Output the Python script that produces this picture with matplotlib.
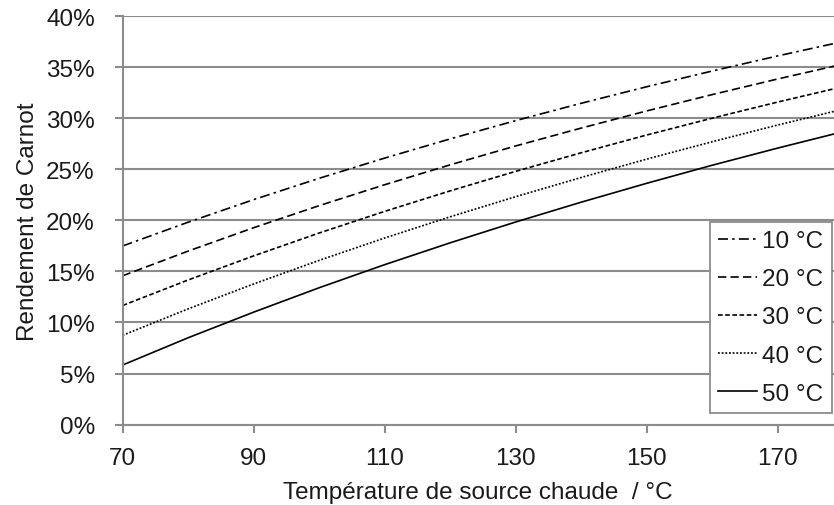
import matplotlib
matplotlib.use("Agg")
import matplotlib.pyplot as plt
from matplotlib.ticker import FuncFormatter

plt.rcParams['font.family'] = ['Liberation Sans', 'DejaVu Sans']

# Hot source temperature (°C)
t_hot = [70, 80, 90, 100, 110, 120, 130, 140, 150, 160, 170, 180]

# Carnot efficiency (%), per cold source temperature
eff_10 = [17.49, 19.82, 22.03, 24.12, 26.10, 27.98, 29.77, 31.47, 33.09, 34.63, 36.11, 37.52]
eff_20 = [14.57, 16.99, 19.28, 21.44, 23.49, 25.44, 27.29, 29.04, 30.72, 32.32, 33.85, 35.31]
eff_30 = [11.66, 14.16, 16.52, 18.76, 20.88, 22.89, 24.80, 26.62, 28.36, 30.01, 31.59, 33.10]
eff_40 = [8.74, 11.33, 13.77, 16.08, 18.27, 20.35, 22.32, 24.20, 26.00, 27.70, 29.34, 30.89]
eff_50 = [5.83, 8.50, 11.01, 13.40, 15.66, 17.80, 19.84, 21.78, 23.63, 25.40, 27.08, 28.69]

labels = ["10 °C", "20 °C", "30 °C", "40 °C", "50 °C"]
series = [eff_10, eff_20, eff_30, eff_40, eff_50]
styles = [(0, (6, 2.5, 1.5, 2.5)), (0, (5, 2.5)), (0, (2.8, 1.5)), (0, (1.1, 1.1)), '-']

yticks = [0, 5, 10, 15, 20, 25, 30, 35, 40]
xticks = [70, 90, 110, 130, 150, 170]

FS = 17.5
TXT = '#1a1a1a'
GRID = '#8c8c8c'

fig = plt.figure(figsize=(8.34, 5.06), dpi=100)
ax = fig.add_axes([0.147, 0.159, 0.853, 0.807])

for y, lab, ls in zip(series, labels, styles):
    ax.plot(t_hot, y, color='black', lw=1.2, linestyle=ls, label=lab)

ax.set_xlim(70, 178.6)
ax.set_ylim(0, 40)
ax.set_yticks(yticks)
ax.set_xticks(xticks)
ax.yaxis.set_major_formatter(FuncFormatter(lambda v, p: f"{int(v)}%"))
ax.grid(axis='y', color=GRID, lw=1.5)
ax.set_axisbelow(True)
for s in ['top', 'right']:
    ax.spines[s].set_visible(False)
for s in ['left', 'bottom']:
    ax.spines[s].set_color(GRID)
    ax.spines[s].set_linewidth(1.5)
ax.tick_params(axis='both', colors=GRID, width=1.5, length=6, labelsize=FS, labelcolor=TXT)
ax.tick_params(axis='y', pad=14)
ax.tick_params(axis='x', pad=10)

ax.set_ylabel("Rendement de Carnot", fontsize=FS, color=TXT, labelpad=5)
ax.set_xlabel("Température de source chaude  / °C", fontsize=FS, color=TXT, labelpad=9)

leg = ax.legend(loc='lower right', bbox_to_anchor=(0.9965, 0.028), fontsize=FS, frameon=True,
                fancybox=False, edgecolor=GRID, handlelength=1.6, handletextpad=0.2,
                labelspacing=0.66, borderpad=0.35, borderaxespad=0)
leg.get_frame().set_linewidth(1.3)
leg.get_frame().set_alpha(1)
for t in leg.get_texts():
    t.set_color(TXT)

fig.savefig("out.png", dpi=100)
